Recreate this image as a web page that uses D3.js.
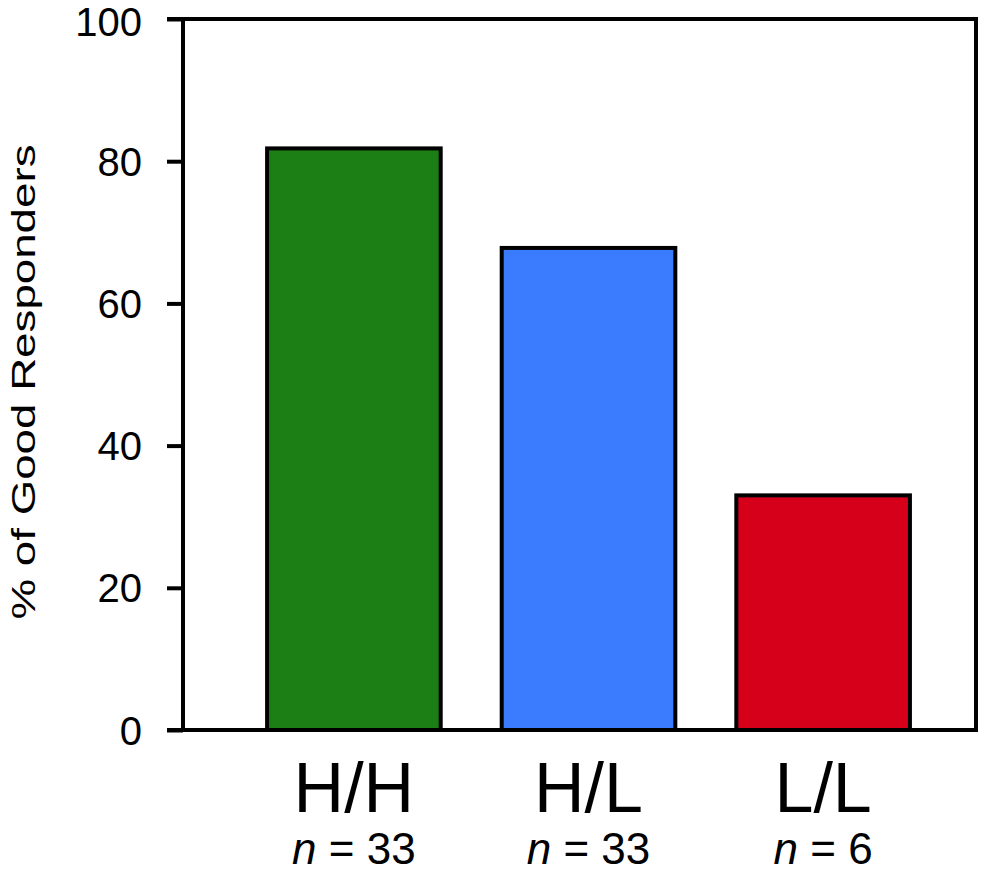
<!DOCTYPE html>
<html>
<head>
<meta charset="utf-8">
<script src="https://cdn.jsdelivr.net/npm/d3@7"></script>
<style>
  html, body { margin: 0; padding: 0; background: #fff; }
  svg { display: block; }
  text { font-family: "Liberation Sans", Arial, sans-serif; fill: #000; }
</style>
</head>
<body>
<svg id="chart" width="1000" height="875"></svg>
<script>
// ---- data ----
const categories = ["H/H", "H/L", "L/L"];
const sampleSizes = ["33", "33", "6"];
const values = [81.8, 67.8, 33.0];
const barColors = ["#1b7f15", "#3b7cff", "#d6001b"];
const yTicks = [0, 20, 40, 60, 80, 100];
const yTitle = "% of Good Responders";

// ---- layout ----
const plotLeft = 183, plotRight = 976, plotTop = 19, plotBottom = 730;
const svg = d3.select("#chart");

const y = d3.scaleLinear().domain([0, 100]).range([plotBottom, plotTop]);
const x = d3.scaleBand()
  .domain(categories)
  .range([plotLeft, plotRight])
  .paddingInner(0.26)
  .paddingOuter(0.32)
  .align(0.56);

// bars
svg.append("g").selectAll("rect")
  .data(values)
  .join("rect")
  .attr("x", (d, i) => x(categories[i]))
  .attr("width", x.bandwidth())
  .attr("y", d => y(d))
  .attr("height", d => y(0) - y(d))
  .attr("fill", (d, i) => barColors[i])
  .attr("stroke", "#000")
  .attr("stroke-width", 4);

// frame (top, right, bottom)
svg.append("path")
  .attr("d", `M${plotLeft - 16},${plotTop} H${plotRight} V${plotBottom} H${plotLeft - 16}`)
  .attr("fill", "none")
  .attr("stroke", "#000")
  .attr("stroke-width", 4)
  .attr("stroke-linejoin", "miter");

// y axis
const yAxis = d3.axisLeft(y)
  .tickValues(yTicks)
  .tickSize(16)
  .tickPadding(25)
  .tickFormat(d3.format("d"));
const ya = svg.append("g")
  .attr("transform", `translate(${plotLeft},0)`)
  .call(yAxis);
ya.select(".domain")
  .attr("d", `M0,${plotTop}V${plotBottom}`)
  .attr("stroke", "#000")
  .attr("stroke-width", 4);
ya.selectAll(".tick line").attr("stroke", "#000").attr("stroke-width", 4);
ya.selectAll(".tick text")
  .attr("font-family", "Liberation Sans, Arial, sans-serif")
  .attr("font-size", 40)
  .attr("fill", "#000")
  .attr("dy", d => d === 100 ? "0.42em" : "0.35em");

// x labels
svg.append("g").selectAll("text")
  .data(categories)
  .join("text")
  .attr("x", d => x(d) + x.bandwidth() / 2)
  .attr("y", 812)
  .attr("text-anchor", "middle")
  .attr("font-size", 70)
  .text(d => d);

const nLab = svg.append("g").selectAll("text")
  .data(sampleSizes)
  .join("text")
  .attr("x", (d, i) => x(categories[i]) + x.bandwidth() / 2)
  .attr("y", 864)
  .attr("text-anchor", "middle")
  .attr("font-size", 44);
nLab.append("tspan").attr("font-style", "italic").text("n");
nLab.append("tspan").text(d => " = " + d);

// y title
svg.append("text")
  .attr("transform", "translate(35,382) rotate(-90)")
  .attr("text-anchor", "middle")
  .attr("font-size", 34)
  .attr("textLength", 475)
  .attr("lengthAdjust", "spacingAndGlyphs")
  .text(yTitle);
</script>
</body>
</html>
